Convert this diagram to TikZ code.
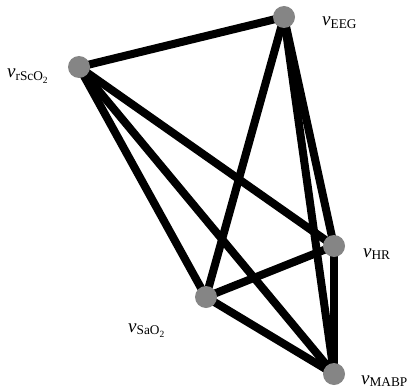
\documentclass[tikz,border=0pt]{standalone}
\usepackage{fontspec}
\setmainfont{Liberation Serif}
\begin{document}
\begin{tikzpicture}[x=1pt,y=-1pt,
  vert/.style={circle,fill=black!48,inner sep=0pt,minimum size=22pt},
  edge/.style={line width=8pt,black},
  lab/.style={font=\fontsize{19}{21}\selectfont,inner sep=0pt,anchor=base west}]
\useasboundingbox (0,0) rectangle (419,390);
\coordinate (eeg) at (284,17);
\coordinate (rsco) at (79,67);
\coordinate (hr) at (334,246);
\coordinate (sao) at (206,297);
\coordinate (mabp) at (334,374);
\path[edge] (rsco) edge (eeg)
  (rsco) edge (hr)
  (rsco) edge (sao)
  (rsco) edge (mabp)
  (eeg) edge (sao)
  (eeg) edge (hr)
  (eeg) edge (mabp)
  (sao) edge (hr)
  (sao) edge (mabp)
  (hr) edge (mabp);
\node[vert] (neeg) at (eeg) {};
\node[vert] (nrsco) at (rsco) {};
\node[vert] (nhr) at (hr) {};
\node[vert] (nsao) at (sao) {};
\node[vert] (nmabp) at (mabp) {};
\node[lab] (leeg) at (322,26) {\textit{v}$_{\mathrm{EEG}}$};
\node[lab] (lrsco) at (7,78) {\textit{v}$_{\mathrm{rScO_2}}$};
\node[lab] (lhr) at (363,257) {\textit{v}$_{\mathrm{HR}}$};
\node[lab] (lsao) at (128,332) {\textit{v}$_{\mathrm{SaO_2}}$};
\node[lab] (lmabp) at (361,384) {\textit{v}$_{\mathrm{MABP}}$};
\end{tikzpicture}
\end{document}
